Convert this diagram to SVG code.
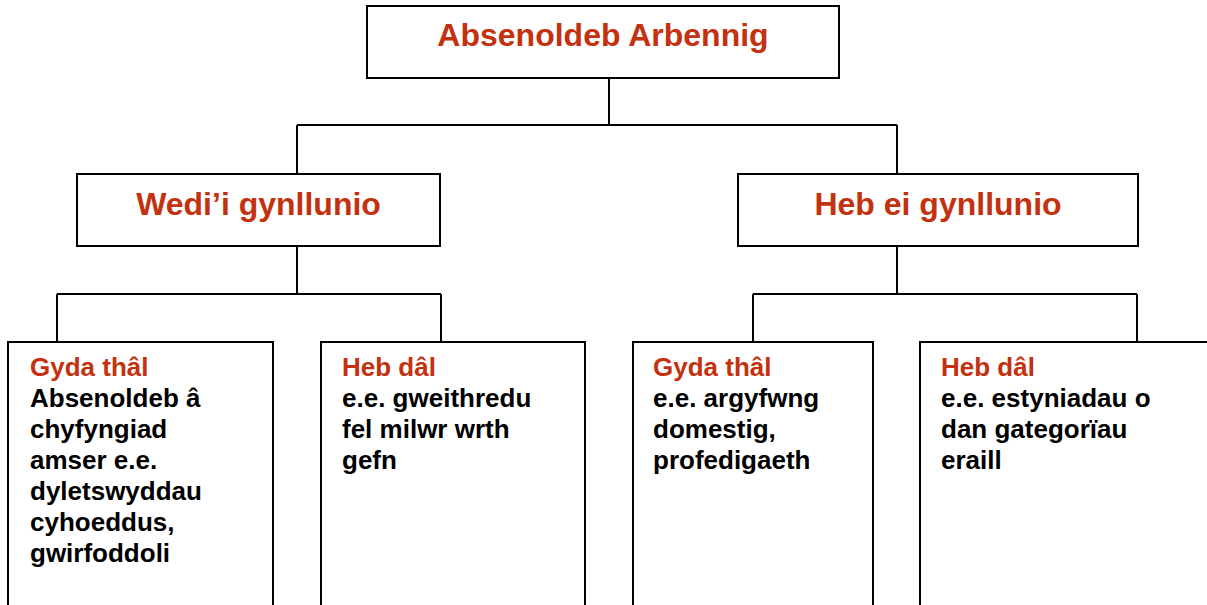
<svg xmlns="http://www.w3.org/2000/svg" width="1207" height="605" viewBox="0 0 1207 605">
<style>
.box{fill:#ffffff;stroke:#000000;stroke-width:2}
.conn{fill:none;stroke:#000000;stroke-width:2}
.h1{font-family:"Liberation Sans",Arial,sans-serif;font-weight:bold;font-size:32px;fill:#C3310F;text-anchor:middle}
.h2{font-family:"Liberation Sans",Arial,sans-serif;font-weight:bold;font-size:26px;fill:#C3310F}
.body{font-family:"Liberation Sans",Arial,sans-serif;font-weight:bold;font-size:26px;fill:#000000}
</style>
<rect width="1207" height="605" fill="#ffffff"/>
<g id="connectors">
<path class="conn" d="M609,78 V125 M297,125 H897 M297,125 V174 M897,125 V174"/>
<path class="conn" d="M297,246 V294 M57,294 H441 M57,294 V342 M441,294 V342"/>
<path class="conn" d="M897,246 V294 M753,294 H1137 M753,294 V342 M1137,294 V342"/>
</g>
<g id="root">
<rect class="box" x="367" y="6" width="472" height="72"/>
<text class="h1" x="603" y="46">Absenoldeb Arbennig</text>
</g>
<g id="planned">
<rect class="box" x="77" y="174" width="363" height="72"/>
<text class="h1" x="258.5" y="215">Wedi’i gynllunio</text>
</g>
<g id="unplanned">
<rect class="box" x="738" y="174" width="400" height="72"/>
<text class="h1" x="938" y="215">Heb ei gynllunio</text>
</g>
<g id="planned-paid">
<rect class="box" x="8" y="342" width="265" height="275"/>
<text class="h2" x="30" y="376">Gyda thâl</text>
<text class="body" x="30" y="407">Absenoldeb â</text>
<text class="body" x="30" y="438">chyfyngiad</text>
<text class="body" x="30" y="469">amser e.e.</text>
<text class="body" x="30" y="500">dyletswyddau</text>
<text class="body" x="30" y="531">cyhoeddus,</text>
<text class="body" x="30" y="562">gwirfoddoli</text>
</g>
<g id="planned-unpaid">
<rect class="box" x="321" y="342" width="264" height="275"/>
<text class="h2" x="342" y="376">Heb dâl</text>
<text class="body" x="342" y="407">e.e. gweithredu</text>
<text class="body" x="342" y="438">fel milwr wrth</text>
<text class="body" x="342" y="469">gefn</text>
</g>
<g id="unplanned-paid">
<rect class="box" x="633" y="342" width="240" height="275"/>
<text class="h2" x="653" y="376">Gyda thâl</text>
<text class="body" x="653" y="407">e.e. argyfwng</text>
<text class="body" x="653" y="438">domestig,</text>
<text class="body" x="653" y="469">profedigaeth</text>
</g>
<g id="unplanned-unpaid">
<rect class="box" x="920" y="342" width="300" height="275"/>
<text class="h2" x="941" y="376">Heb dâl</text>
<text class="body" x="941" y="407">e.e. estyniadau o</text>
<text class="body" x="941" y="438">dan gategorïau</text>
<text class="body" x="941" y="469">eraill</text>
</g>
</svg>
